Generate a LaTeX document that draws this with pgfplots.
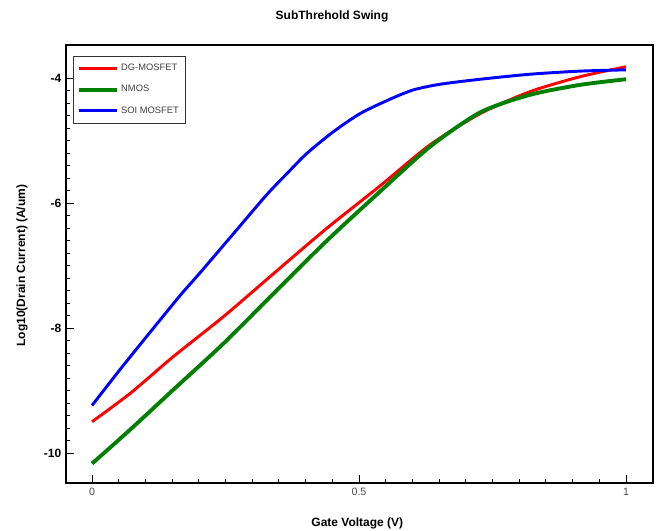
\documentclass[border=0pt]{standalone}
\usepackage{fontspec}
\setmainfont{Liberation Sans}
\usepackage{pgfplots}
\pgfplotsset{compat=1.18}
\definecolor{dgred}{RGB}{255,0,0}
\definecolor{nmosgreen}{RGB}{0,128,0}
\definecolor{soiblue}{RGB}{0,0,255}
\begin{document}
\begin{tikzpicture}
\useasboundingbox (0,0) rectangle (493.5pt,398.25pt);
\begin{axis}[
  at={(49.5pt,36pt)}, anchor=south west,
  scale only axis, width=440.25pt, height=328.5pt,
  xmin=-0.0487, xmax=1.0506, ymin=-10.48, ymax=-3.472,
  xtick={0,0.5,1}, xticklabels={0,0.5,1},
  ytick={-10,-8,-6,-4}, yticklabels={-10,-8,-6,-4},
  minor x tick num=9, minor y tick num=9,
  tick pos=left, tick align=inside,
  major tick length=6pt, minor tick length=3pt,
  every tick/.style={black, line width=0.6pt},
  axis line style={line width=1.5pt},
  x tick label style={font=\fontsize{8}{9}\selectfont, text=black!70},
  y tick label style={font=\fontsize{9}{10}\selectfont\bfseries},
  /pgf/number format/assume math mode=true,
  legend style={at={(0.012,0.975)}, anchor=north west, draw=black!80, line width=0.5pt,
    font=\fontsize{7}{8}\selectfont, text=black!75, row sep=5.5pt, inner xsep=3pt, inner ysep=4pt},
  legend cell align=left,
  legend image code/.code={\draw[#1] (0pt,0pt) -- (28pt,0pt);},
]
\addplot[dgred, line width=2.2pt, smooth, tension=0.45] coordinates {
(0,-9.50) (0.071,-9.05) (0.152,-8.46) (0.246,-7.82) (0.340,-7.13) (0.439,-6.41)
(0.539,-5.73) (0.633,-5.07) (0.727,-4.57) (0.820,-4.22) (0.914,-3.98) (1.0,-3.82)};
\addlegendentry{DG-MOSFET}
\addplot[nmosgreen, line width=2.9pt, smooth, tension=0.45] coordinates {
(0,-10.17) (0.071,-9.63) (0.152,-8.99) (0.246,-8.25) (0.340,-7.45) (0.439,-6.61)
(0.539,-5.82) (0.633,-5.10) (0.727,-4.55) (0.820,-4.27) (0.914,-4.11) (1.0,-4.02)};
\addlegendentry{NMOS}
\addplot[soiblue, line width=2.2pt, smooth, tension=0.45] coordinates {
(0,-9.24) (0.052,-8.67) (0.102,-8.14) (0.165,-7.48) (0.202,-7.12) (0.265,-6.49)
(0.327,-5.87) (0.365,-5.53) (0.402,-5.21) (0.452,-4.86) (0.502,-4.57) (0.558,-4.34)
(0.602,-4.19) (0.652,-4.10) (0.727,-4.02) (0.820,-3.94) (0.914,-3.89) (1.0,-3.87)};
\addlegendentry{SOI MOSFET}
\end{axis}
\node[font=\fontsize{9}{10}\selectfont\bfseries] at (249pt,386.25pt) {SubThrehold Swing};
\node[font=\fontsize{9}{10}\selectfont\bfseries] at (268pt,6pt) {Gate Voltage (V)};
\node[font=\fontsize{9}{10}\selectfont\bfseries, rotate=90] at (16.5pt,199pt) {Log10(Drain Current) (A/um)};
\end{tikzpicture}
\end{document}
